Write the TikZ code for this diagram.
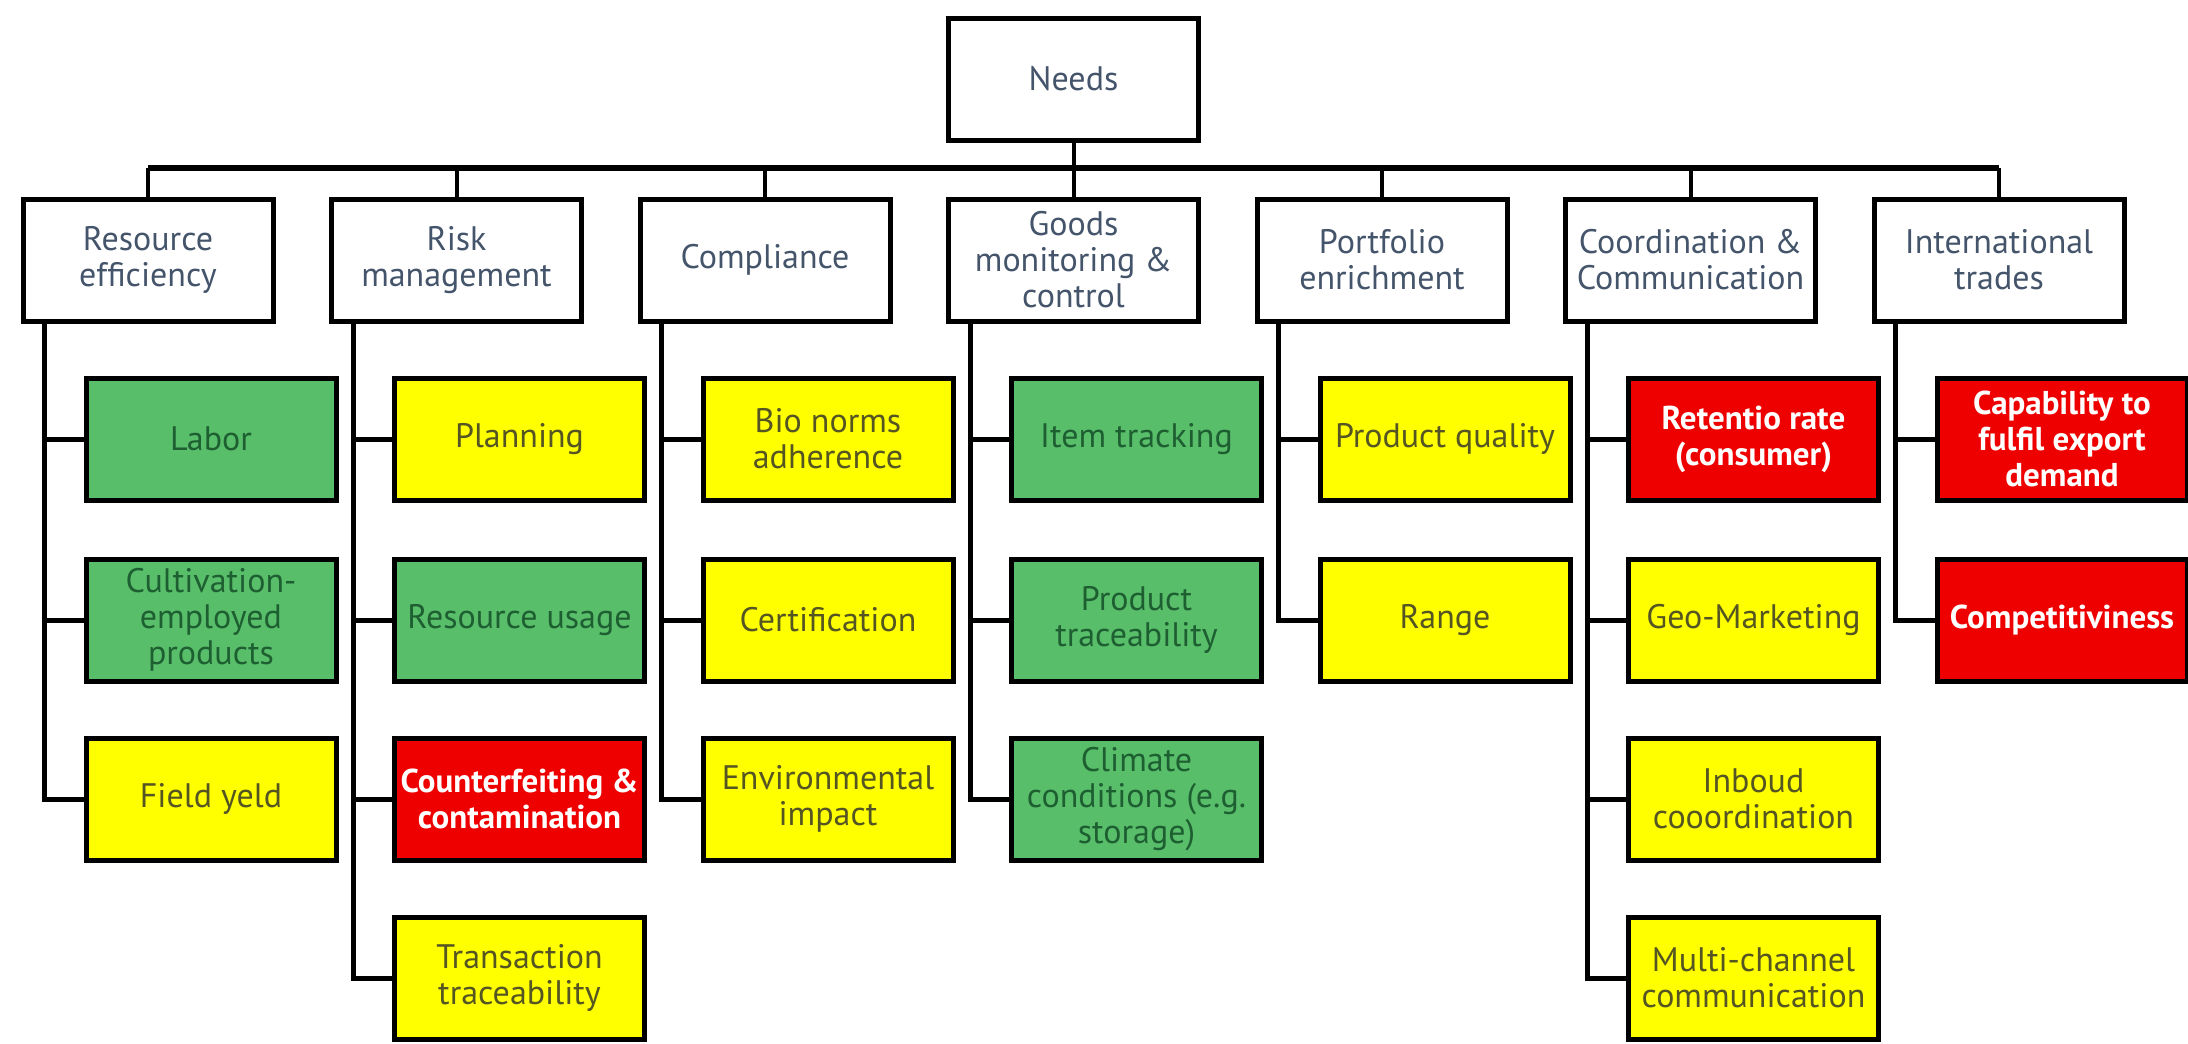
\documentclass[tikz,border=0pt]{standalone}
\usepackage{fontspec}
\setmainfont{PT Sans}
\usetikzlibrary{calc}
\definecolor{boxgreen}{RGB}{88,190,106}
\definecolor{txtgreen}{RGB}{30,95,50}
\definecolor{boxyellow}{RGB}{255,255,0}
\definecolor{txtyellow}{RGB}{85,85,35}
\definecolor{boxred}{RGB}{238,0,0}
\definecolor{txtgrey}{RGB}{68,84,106}
\tikzset{
  base/.style={draw=black, line width=5pt, minimum width=250pt, minimum height=122pt,
    align=center, inner sep=1pt, font=\fontsize{34}{36}\selectfont},
  catbox/.style={base, fill=white, text=txtgrey},
  leafG/.style={base, fill=boxgreen, text=txtgreen},
  leafY/.style={base, fill=boxyellow, text=txtyellow},
  leafR/.style={base, fill=boxred, text=white, font=\fontsize{33}{36}\selectfont\bfseries},
  busline/.style={line width=5.5pt},
  drop/.style={line width=4pt},
  trunk/.style={line width=5pt}
}
\begin{document}
\begin{tikzpicture}[x=1pt,y=-1pt]
\useasboundingbox[fill=white] (0,0) rectangle (2188,1044);
% root
\node[catbox] (needs) at (1073.5,79) {Needs};
% categories
\node[catbox] (c1) at (148,260) {Resource\\efficiency};
\node[catbox] (c2) at (456.5,260) {Risk\\management};
\node[catbox] (c3) at (765,260) {Compliance};
\node[catbox] (c4) at (1073.5,260) {Goods\\monitoring \&\\control};
\node[catbox] (c5) at (1382,260) {Portfolio\\enrichment};
\node[catbox] (c6) at (1690.5,260) {Coordination \&\\Communication};
\node[catbox] (c7) at (1999,260) {International\\trades};
% leaves column 1
\node[leafG] (l11) at (211,439) {Labor};
\node[leafG] (l12) at (211,620) {Cultivation-\\employed\\products};
\node[leafY] (l13) at (211,799) {Field yeld};
% column 2
\node[leafY] (l21) at (519.5,439) {Planning};
\node[leafG] (l22) at (519.5,620) {Resource usage};
\node[leafR] (l23) at (519.5,799) {Counterfeiting \&\\contamination};
\node[leafY] (l24) at (519.5,978) {Transaction\\traceability};
% column 3
\node[leafY] (l31) at (828,439) {Bio norms\\adherence};
\node[leafY] (l32) at (828,620) {Certification};
\node[leafY] (l33) at (828,799) {Environmental\\impact};
% column 4
\node[leafG] (l41) at (1136.5,439) {Item tracking};
\node[leafG] (l42) at (1136.5,620) {Product\\traceability};
\node[leafG] (l43) at (1136.5,799) {Climate\\conditions (e.g.\\storage)};
% column 5
\node[leafY] (l51) at (1445,439) {Product quality};
\node[leafY] (l52) at (1445,620) {Range};
% column 6
\node[leafR] (l61) at (1753.5,439) {Retentio rate\\(consumer)};
\node[leafY] (l62) at (1753.5,620) {Geo-Marketing};
\node[leafY] (l63) at (1753.5,799) {Inboud\\cooordination};
\node[leafY] (l64) at (1753.5,978) {Multi-channel\\communication};
% column 7
\node[leafR] (l71) at (2062,439) {Capability to\\fulfil export\\demand};
\node[leafR] (l72) at (2062,620) {Competitiviness};
% bus
\coordinate (busL) at (148,168);
\coordinate (busR) at (1999,168);
\draw[busline] (busL) -- (busR);
\draw[drop] (needs.south) -- (needs.south |- busL);
\foreach \c in {c1,c2,c3,c4,c5,c6,c7}{
  \draw[drop] (\c.north) -- (\c.north |- busL);
}
% trunks
\foreach \c/\ls in {c1/{l11,l12,l13}, c2/{l21,l22,l23,l24}, c3/{l31,l32,l33}, c4/{l41,l42,l43}, c5/{l51,l52}, c6/{l61,l62,l63,l64}, c7/{l71,l72}}{
  \coordinate (t) at ($(\c.south west)+(24,0)$);
  \foreach \l in \ls {
    \draw[trunk] (t) |- (\l.west);
  }
}
\end{tikzpicture}
\end{document}
